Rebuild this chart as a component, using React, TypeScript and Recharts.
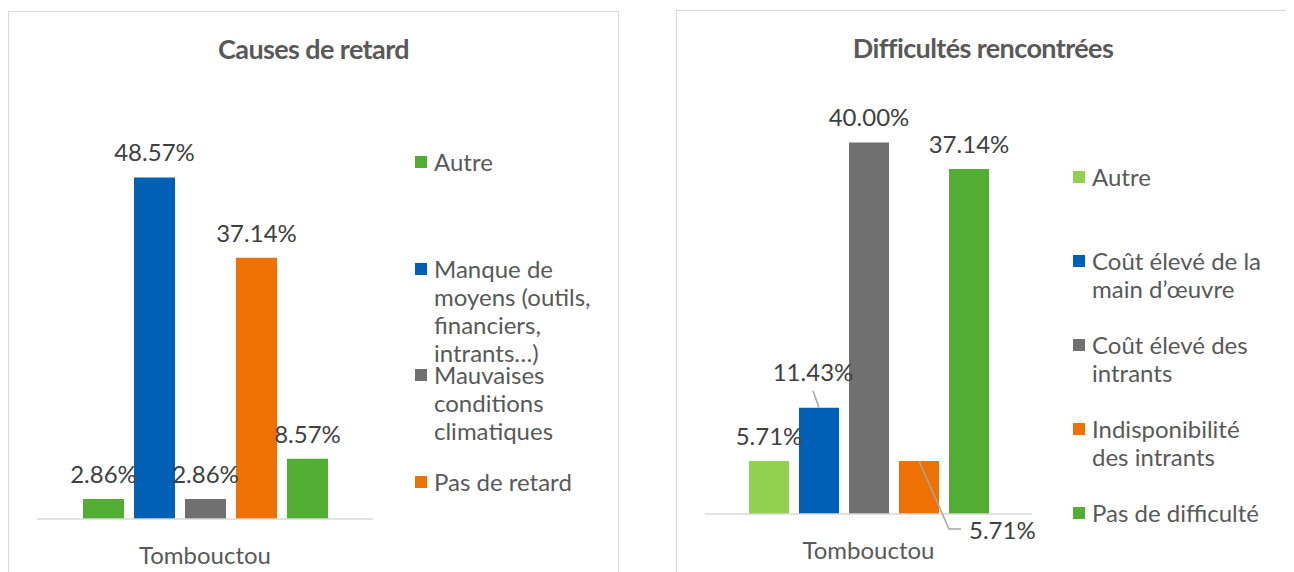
import React from "react";
import { Bar, BarChart, LabelList, Legend, XAxis, YAxis } from "recharts";

const category = "Tombouctou";

// Causes de retard
const retardSeries = [
  "Autre",
  "Manque de moyens (outils, financiers, intrants…)",
  "Mauvaises conditions climatiques",
  "Pas de retard",
  "Autre (2)",
];
const retardValues = [2.86, 48.57, 2.86, 37.14, 8.57];
const retardColors = ["#52AE32", "#0060B6", "#707070", "#EE7203", "#52AE32"];
const retardInLegend = [true, true, true, true, false];

// Difficultés rencontrées
const diffSeries = [
  "Autre",
  "Coût élevé de la main d’œuvre",
  "Coût élevé des intrants",
  "Indisponibilité des intrants",
  "Pas de difficulté",
];
const diffValues = [5.71, 11.43, 40.0, 5.71, 37.14];
const diffColors = ["#92D050", "#0060B6", "#707070", "#EE7203", "#52AE32"];

const FONT = "Lato, 'Open Sans', sans-serif";
const TEXT = "#595959";
const LABEL = "#404040";
const FS = 24;

const toRow = (values: number[]) => {
  const row: Record<string, string | number> = { name: category };
  values.forEach((v, i) => {
    row[`s${i}`] = v;
  });
  return row;
};

const fmt = (v: number) => `${v.toFixed(2)}%`;

// label with optional leader line; offsets are relative to the bar top
type Callout = { dx: number; dy: number; line?: number[][] };

function makeLabel(callout?: Callout) {
  return (props: any) => {
    const { x, y, width, value } = props;
    const cx = x + width / 2;
    if (!callout) {
      return (
        <text x={cx} y={y - 16} textAnchor="middle" fill={LABEL} fontSize={FS} fontFamily={FONT}>
          {fmt(value)}
        </text>
      );
    }
    const pts = (callout.line || []).map(([px, py]) => `${cx + px},${y + py}`).join(" ");
    return (
      <g>
        {pts && <polyline points={pts} fill="none" stroke="#A6A6A6" strokeWidth={1.5} />}
        <text
          x={cx + callout.dx}
          y={y + callout.dy}
          textAnchor={callout.dx > 20 ? "start" : "middle"}
          fill={LABEL}
          fontSize={FS}
          fontFamily={FONT}
        >
          {fmt(value)}
        </text>
      </g>
    );
  };
}

function makeLegend(spacing: number, textWidth: number) {
  return (props: any) => {
    const items = (props.payload || []).filter((p: any) => p.type !== "none");
    return (
      <div style={{ position: "relative", fontFamily: FONT, fontSize: FS, color: TEXT }}>
        {items.map((p: any, i: number) => (
          <div
            key={i}
            style={{ position: "absolute", left: 0, top: i * spacing, display: "flex", lineHeight: "28px" }}
          >
            <span
              style={{ width: 12, height: 12, background: p.color, marginTop: 8, marginRight: 7, flex: "none" }}
            />
            <span style={{ width: textWidth }}>{p.value}</span>
          </div>
        ))}
      </div>
    );
  };
}

const panelStyle: React.CSSProperties = {
  position: "absolute",
  border: "1px solid #D9D9D9",
  boxSizing: "border-box",
  height: 600,
};

const titleStyle: React.CSSProperties = {
  position: "absolute",
  top: 20,
  left: 0,
  right: 0,
  textAlign: "center",
  fontFamily: FONT,
  fontWeight: 700,
  fontSize: 27,
  letterSpacing: -0.6,
  color: TEXT,
};

const callouts: (Callout | undefined)[] = [
  undefined,
  { dx: -6, dy: -27, line: [[0, 0], [-6, -17]] },
  undefined,
  { dx: 50, dy: 78, line: [[0, 0], [30, 68], [42, 68]] },
  undefined,
];

export default function App() {
  const retardRow = [toRow(retardValues)];
  const diffRow = [toRow(diffValues)];

  return (
    <div style={{ position: "relative", width: 1286, height: 564, overflow: "hidden" }}>
      <div style={{ ...panelStyle, left: 0, top: 3, width: 611 }}>
        <div style={titleStyle}>Causes de retard</div>
      </div>
      <div style={{ ...panelStyle, left: 668, top: 2, width: 614 }}>
        <div style={titleStyle}>Difficultés rencontrées</div>
      </div>

      <div style={{ position: "absolute", left: 0, top: 0 }}>
        <BarChart
          width={640}
          height={564}
          data={retardRow}
          margin={{ top: 89, right: 275, left: 29, bottom: 13 }}
          barSize={41}
          barGap={10}
        >
          <XAxis
            dataKey="name"
            axisLine={{ stroke: "#D9D9D9", strokeWidth: 1.5 }}
            tickLine={false}
            tickMargin={22}
            height={40}
            tick={{ fill: TEXT, fontSize: FS, fontFamily: FONT }}
          />
          <YAxis hide domain={[0, 60]} />
          <Legend
            content={makeLegend(106.7, 168)}
            wrapperStyle={{ position: "absolute", left: 407, top: 140, width: 200 }}
          />
          {retardSeries.map((name, i) => (
            <Bar
              key={i}
              dataKey={`s${i}`}
              name={name}
              fill={retardColors[i]}
              legendType={retardInLegend[i] ? "square" : "none"}
              isAnimationActive={false}
            >
              <LabelList dataKey={`s${i}`} content={makeLabel()} />
            </Bar>
          ))}
        </BarChart>
      </div>

      <div style={{ position: "absolute", left: 668, top: 0 }}>
        <BarChart
          width={614}
          height={564}
          data={diffRow}
          margin={{ top: 88, right: 258, left: 29, bottom: 18 }}
          barSize={40}
          barGap={10}
        >
          <XAxis
            dataKey="name"
            axisLine={{ stroke: "#D9D9D9", strokeWidth: 1.5 }}
            tickLine={false}
            tickMargin={22}
            height={40}
            tick={{ fill: TEXT, fontSize: FS, fontFamily: FONT }}
          />
          <YAxis hide domain={[0, 45]} />
          <Legend
            content={makeLegend(84, 178)}
            wrapperStyle={{ position: "absolute", left: 397, top: 155, width: 210 }}
          />
          {diffSeries.map((name, i) => (
            <Bar key={i} dataKey={`s${i}`} name={name} fill={diffColors[i]} isAnimationActive={false}>
              <LabelList dataKey={`s${i}`} content={makeLabel(callouts[i])} />
            </Bar>
          ))}
        </BarChart>
      </div>
    </div>
  );
}
